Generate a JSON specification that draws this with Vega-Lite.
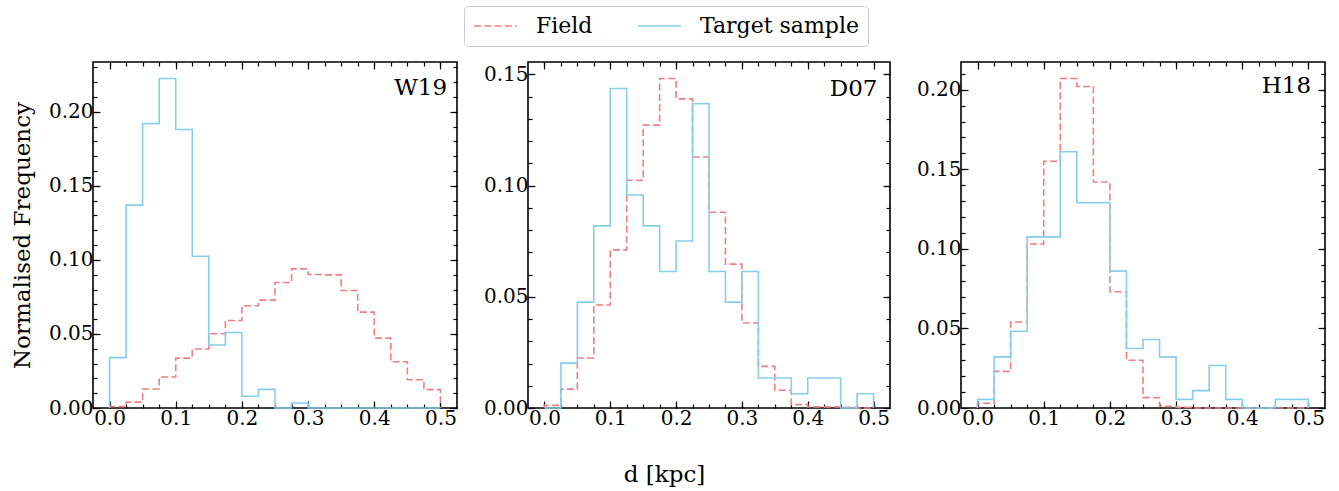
{
  "$schema": "https://vega.github.io/schema/vega-lite/v6.json",
  "padding": {"left": 10, "top": 5, "right": 10, "bottom": 5},
  "title": {"text": "d [kpc]", "orient": "bottom", "anchor": "middle", "fontSize": 23, "font": "DejaVu Serif", "fontWeight": "normal", "color": "black", "offset": 35, "dx": -4},
  "data": {"values": [
    {"p":"W19","s":"Field","i":0,"d":0,"f":0},
    {"p":"W19","s":"Field","i":1,"d":0,"f":0.001},
    {"p":"W19","s":"Field","i":2,"d":0.025,"f":0.004},
    {"p":"W19","s":"Field","i":3,"d":0.05,"f":0.0128},
    {"p":"W19","s":"Field","i":4,"d":0.075,"f":0.0209},
    {"p":"W19","s":"Field","i":5,"d":0.1,"f":0.0337},
    {"p":"W19","s":"Field","i":6,"d":0.125,"f":0.0398},
    {"p":"W19","s":"Field","i":7,"d":0.15,"f":0.0501},
    {"p":"W19","s":"Field","i":8,"d":0.175,"f":0.0591},
    {"p":"W19","s":"Field","i":9,"d":0.2,"f":0.069},
    {"p":"W19","s":"Field","i":10,"d":0.225,"f":0.0728},
    {"p":"W19","s":"Field","i":11,"d":0.25,"f":0.0847},
    {"p":"W19","s":"Field","i":12,"d":0.275,"f":0.0939},
    {"p":"W19","s":"Field","i":13,"d":0.3,"f":0.0901},
    {"p":"W19","s":"Field","i":14,"d":0.325,"f":0.0899},
    {"p":"W19","s":"Field","i":15,"d":0.35,"f":0.0793},
    {"p":"W19","s":"Field","i":16,"d":0.375,"f":0.0647},
    {"p":"W19","s":"Field","i":17,"d":0.4,"f":0.0472},
    {"p":"W19","s":"Field","i":18,"d":0.425,"f":0.0312},
    {"p":"W19","s":"Field","i":19,"d":0.45,"f":0.0191},
    {"p":"W19","s":"Field","i":20,"d":0.475,"f":0.0124},
    {"p":"W19","s":"Field","i":21,"d":0.5,"f":0.0124},
    {"p":"W19","s":"Field","i":22,"d":0.5,"f":0},
    {"p":"W19","s":"Target sample","i":0,"d":0,"f":0},
    {"p":"W19","s":"Target sample","i":1,"d":0,"f":0.034},
    {"p":"W19","s":"Target sample","i":2,"d":0.025,"f":0.137},
    {"p":"W19","s":"Target sample","i":3,"d":0.05,"f":0.192},
    {"p":"W19","s":"Target sample","i":4,"d":0.075,"f":0.2225},
    {"p":"W19","s":"Target sample","i":5,"d":0.1,"f":0.188},
    {"p":"W19","s":"Target sample","i":6,"d":0.125,"f":0.1025},
    {"p":"W19","s":"Target sample","i":7,"d":0.15,"f":0.0425},
    {"p":"W19","s":"Target sample","i":8,"d":0.175,"f":0.051},
    {"p":"W19","s":"Target sample","i":9,"d":0.2,"f":0.0079},
    {"p":"W19","s":"Target sample","i":10,"d":0.225,"f":0.0126},
    {"p":"W19","s":"Target sample","i":11,"d":0.25,"f":0},
    {"p":"W19","s":"Target sample","i":12,"d":0.275,"f":0.0034},
    {"p":"W19","s":"Target sample","i":13,"d":0.3,"f":0},
    {"p":"W19","s":"Target sample","i":14,"d":0.325,"f":0},
    {"p":"W19","s":"Target sample","i":15,"d":0.35,"f":0},
    {"p":"W19","s":"Target sample","i":16,"d":0.375,"f":0},
    {"p":"W19","s":"Target sample","i":17,"d":0.4,"f":0},
    {"p":"W19","s":"Target sample","i":18,"d":0.425,"f":0},
    {"p":"W19","s":"Target sample","i":19,"d":0.45,"f":0},
    {"p":"W19","s":"Target sample","i":20,"d":0.475,"f":0},
    {"p":"W19","s":"Target sample","i":21,"d":0.5,"f":0},
    {"p":"W19","s":"Target sample","i":22,"d":0.5,"f":0},
    {"p":"D07","s":"Field","i":0,"d":0,"f":0},
    {"p":"D07","s":"Field","i":1,"d":0,"f":0.0012},
    {"p":"D07","s":"Field","i":2,"d":0.025,"f":0.0085},
    {"p":"D07","s":"Field","i":3,"d":0.05,"f":0.0225},
    {"p":"D07","s":"Field","i":4,"d":0.075,"f":0.0463},
    {"p":"D07","s":"Field","i":5,"d":0.1,"f":0.0711},
    {"p":"D07","s":"Field","i":6,"d":0.125,"f":0.1024},
    {"p":"D07","s":"Field","i":7,"d":0.15,"f":0.1272},
    {"p":"D07","s":"Field","i":8,"d":0.175,"f":0.1482},
    {"p":"D07","s":"Field","i":9,"d":0.2,"f":0.139},
    {"p":"D07","s":"Field","i":10,"d":0.225,"f":0.1129},
    {"p":"D07","s":"Field","i":11,"d":0.25,"f":0.088},
    {"p":"D07","s":"Field","i":12,"d":0.275,"f":0.0647},
    {"p":"D07","s":"Field","i":13,"d":0.3,"f":0.0382},
    {"p":"D07","s":"Field","i":14,"d":0.325,"f":0.0187},
    {"p":"D07","s":"Field","i":15,"d":0.35,"f":0.008},
    {"p":"D07","s":"Field","i":16,"d":0.375,"f":0.0015},
    {"p":"D07","s":"Field","i":17,"d":0.4,"f":0.0005},
    {"p":"D07","s":"Field","i":18,"d":0.425,"f":0.0005},
    {"p":"D07","s":"Field","i":19,"d":0.45,"f":0.0003},
    {"p":"D07","s":"Field","i":20,"d":0.475,"f":0},
    {"p":"D07","s":"Field","i":21,"d":0.5,"f":0},
    {"p":"D07","s":"Field","i":22,"d":0.5,"f":0},
    {"p":"D07","s":"Target sample","i":0,"d":0,"f":0},
    {"p":"D07","s":"Target sample","i":1,"d":0,"f":0},
    {"p":"D07","s":"Target sample","i":2,"d":0.025,"f":0.0202},
    {"p":"D07","s":"Target sample","i":3,"d":0.05,"f":0.0476},
    {"p":"D07","s":"Target sample","i":4,"d":0.075,"f":0.0819},
    {"p":"D07","s":"Target sample","i":5,"d":0.1,"f":0.1437},
    {"p":"D07","s":"Target sample","i":6,"d":0.125,"f":0.0958},
    {"p":"D07","s":"Target sample","i":7,"d":0.15,"f":0.0819},
    {"p":"D07","s":"Target sample","i":8,"d":0.175,"f":0.0614},
    {"p":"D07","s":"Target sample","i":9,"d":0.2,"f":0.0751},
    {"p":"D07","s":"Target sample","i":10,"d":0.225,"f":0.1368},
    {"p":"D07","s":"Target sample","i":11,"d":0.25,"f":0.0614},
    {"p":"D07","s":"Target sample","i":12,"d":0.275,"f":0.0476},
    {"p":"D07","s":"Target sample","i":13,"d":0.3,"f":0.0614},
    {"p":"D07","s":"Target sample","i":14,"d":0.325,"f":0.0135},
    {"p":"D07","s":"Target sample","i":15,"d":0.35,"f":0.0135},
    {"p":"D07","s":"Target sample","i":16,"d":0.375,"f":0.0064},
    {"p":"D07","s":"Target sample","i":17,"d":0.4,"f":0.0135},
    {"p":"D07","s":"Target sample","i":18,"d":0.425,"f":0.0135},
    {"p":"D07","s":"Target sample","i":19,"d":0.45,"f":0},
    {"p":"D07","s":"Target sample","i":20,"d":0.475,"f":0.0064},
    {"p":"D07","s":"Target sample","i":21,"d":0.5,"f":0.0064},
    {"p":"D07","s":"Target sample","i":22,"d":0.5,"f":0},
    {"p":"H18","s":"Field","i":0,"d":0,"f":0},
    {"p":"H18","s":"Field","i":1,"d":0,"f":0.003},
    {"p":"H18","s":"Field","i":2,"d":0.025,"f":0.023},
    {"p":"H18","s":"Field","i":3,"d":0.05,"f":0.054},
    {"p":"H18","s":"Field","i":4,"d":0.075,"f":0.103},
    {"p":"H18","s":"Field","i":5,"d":0.1,"f":0.155},
    {"p":"H18","s":"Field","i":6,"d":0.125,"f":0.207},
    {"p":"H18","s":"Field","i":7,"d":0.15,"f":0.202},
    {"p":"H18","s":"Field","i":8,"d":0.175,"f":0.142},
    {"p":"H18","s":"Field","i":9,"d":0.2,"f":0.073},
    {"p":"H18","s":"Field","i":10,"d":0.225,"f":0.03},
    {"p":"H18","s":"Field","i":11,"d":0.25,"f":0.0065},
    {"p":"H18","s":"Field","i":12,"d":0.275,"f":0.001},
    {"p":"H18","s":"Field","i":13,"d":0.3,"f":0.0004},
    {"p":"H18","s":"Field","i":14,"d":0.325,"f":0},
    {"p":"H18","s":"Field","i":15,"d":0.35,"f":0},
    {"p":"H18","s":"Field","i":16,"d":0.375,"f":0},
    {"p":"H18","s":"Field","i":17,"d":0.4,"f":0},
    {"p":"H18","s":"Field","i":18,"d":0.425,"f":0},
    {"p":"H18","s":"Field","i":19,"d":0.45,"f":0},
    {"p":"H18","s":"Field","i":20,"d":0.475,"f":0},
    {"p":"H18","s":"Field","i":21,"d":0.5,"f":0},
    {"p":"H18","s":"Field","i":22,"d":0.5,"f":0},
    {"p":"H18","s":"Target sample","i":0,"d":0,"f":0},
    {"p":"H18","s":"Target sample","i":1,"d":0,"f":0.0054},
    {"p":"H18","s":"Target sample","i":2,"d":0.025,"f":0.0321},
    {"p":"H18","s":"Target sample","i":3,"d":0.05,"f":0.0482},
    {"p":"H18","s":"Target sample","i":4,"d":0.075,"f":0.1075},
    {"p":"H18","s":"Target sample","i":5,"d":0.1,"f":0.1075},
    {"p":"H18","s":"Target sample","i":6,"d":0.125,"f":0.161},
    {"p":"H18","s":"Target sample","i":7,"d":0.15,"f":0.129},
    {"p":"H18","s":"Target sample","i":8,"d":0.175,"f":0.129},
    {"p":"H18","s":"Target sample","i":9,"d":0.2,"f":0.086},
    {"p":"H18","s":"Target sample","i":10,"d":0.225,"f":0.0374},
    {"p":"H18","s":"Target sample","i":11,"d":0.25,"f":0.043},
    {"p":"H18","s":"Target sample","i":12,"d":0.275,"f":0.0321},
    {"p":"H18","s":"Target sample","i":13,"d":0.3,"f":0.0054},
    {"p":"H18","s":"Target sample","i":14,"d":0.325,"f":0.0109},
    {"p":"H18","s":"Target sample","i":15,"d":0.35,"f":0.0267},
    {"p":"H18","s":"Target sample","i":16,"d":0.375,"f":0.0054},
    {"p":"H18","s":"Target sample","i":17,"d":0.4,"f":0},
    {"p":"H18","s":"Target sample","i":18,"d":0.425,"f":0},
    {"p":"H18","s":"Target sample","i":19,"d":0.45,"f":0.0054},
    {"p":"H18","s":"Target sample","i":20,"d":0.475,"f":0.0054},
    {"p":"H18","s":"Target sample","i":21,"d":0.5,"f":0.0054},
    {"p":"H18","s":"Target sample","i":22,"d":0.5,"f":0}
  ]},
  "spacing": 23,
  "hconcat": [
    {
      "width": 364, "height": 346,
      "transform": [{"filter": "datum.p == 'W19'"}],
      "layer": [
        {
          "mark": {"type": "line", "interpolate": "step-after", "strokeWidth": 1.6},
          "encoding": {
            "x": {"field": "d", "type": "quantitative", "scale": {"domain": [-0.025, 0.525], "nice": false, "zero": false},
                  "axis": {"orient": "bottom", "values": [0, 0.1, 0.2, 0.3, 0.4, 0.5], "format": ".1f", "tickSize": -7, "labelPadding": 7, "title": null}},
            "y": {"field": "f", "type": "quantitative", "scale": {"domain": [0, 0.2336], "nice": false},
                  "axis": {"orient": "left", "values": [0, 0.05, 0.1, 0.15, 0.2], "format": ".2f", "tickSize": -7, "labelPadding": 7, "title": "Normalised Frequency", "titlePadding": 14}},
            "color": {"field": "s", "type": "nominal", "scale": {"domain": ["Field", "Target sample"], "range": ["#F08080", "#87CEEB"]}, "legend": {"title": null}},
            "strokeDash": {"field": "s", "type": "nominal", "scale": {"domain": ["Field", "Target sample"], "range": [[7, 3.3], [1, 0]]}, "legend": {"title": null}},
            "order": {"field": "i", "type": "quantitative"}
          }
        },
        {
          "mark": {"type": "line", "strokeOpacity": 0},
          "encoding": {
            "x": {"field": "d", "type": "quantitative", "axis": {"orient": "bottom", "values": [0,0.025,0.05,0.075,0.1,0.125,0.15,0.175,0.2,0.225,0.25,0.275,0.3,0.325,0.35,0.375,0.4,0.425,0.45,0.475,0.5], "labels": false, "tickSize": -4, "title": null}},
            "y": {"field": "f", "type": "quantitative", "axis": {"orient": "left", "values": [0,0.01,0.02,0.03,0.04,0.05,0.06,0.07,0.08,0.09,0.1,0.11,0.12,0.13,0.14,0.15,0.16,0.17,0.18,0.19,0.2,0.21,0.22,0.23], "labels": false, "tickSize": -4, "title": null}},
            "detail": {"field": "s"}
          }
        },
        {
          "mark": {"type": "line", "strokeOpacity": 0},
          "encoding": {
            "x": {"field": "d", "type": "quantitative", "axis": {"orient": "top", "values": [0, 0.1, 0.2, 0.3, 0.4, 0.5], "labels": false, "tickSize": -7, "title": null}},
            "y": {"field": "f", "type": "quantitative", "axis": {"orient": "right", "values": [0, 0.05, 0.1, 0.15, 0.2], "labels": false, "tickSize": -7, "title": null}},
            "detail": {"field": "s"}
          }
        },
        {
          "mark": {"type": "line", "strokeOpacity": 0},
          "encoding": {
            "x": {"field": "d", "type": "quantitative", "axis": {"orient": "top", "values": [0,0.025,0.05,0.075,0.1,0.125,0.15,0.175,0.2,0.225,0.25,0.275,0.3,0.325,0.35,0.375,0.4,0.425,0.45,0.475,0.5], "labels": false, "tickSize": -4, "title": null}},
            "y": {"field": "f", "type": "quantitative", "axis": {"orient": "right", "values": [0,0.01,0.02,0.03,0.04,0.05,0.06,0.07,0.08,0.09,0.1,0.11,0.12,0.13,0.14,0.15,0.16,0.17,0.18,0.19,0.2,0.21,0.22,0.23], "labels": false, "tickSize": -4, "title": null}},
            "detail": {"field": "s"}
          }
        },
        {
          "data": {"values": [{"p": "W19", "label": "W19"}]},
          "mark": {"type": "text", "align": "right", "baseline": "middle", "fontSize": 23, "font": "DejaVu Serif", "color": "black"},
          "encoding": {
            "x": {"datum": 0.51, "type": "quantitative", "axis": null},
            "y": {"datum": 0.216, "type": "quantitative", "axis": null},
            "text": {"field": "label"}
          }
        }
      ],
      "resolve": {"axis": {"x": "independent", "y": "independent"}}
    },
    {
      "width": 362, "height": 346,
      "transform": [{"filter": "datum.p == 'D07'"}],
      "layer": [
        {
          "mark": {"type": "line", "interpolate": "step-after", "strokeWidth": 1.6},
          "encoding": {
            "x": {"field": "d", "type": "quantitative", "scale": {"domain": [-0.025, 0.525], "nice": false, "zero": false},
                  "axis": {"orient": "bottom", "values": [0, 0.1, 0.2, 0.3, 0.4, 0.5], "format": ".1f", "tickSize": -7, "labelPadding": 7, "title": null}},
            "y": {"field": "f", "type": "quantitative", "scale": {"domain": [0, 0.1556], "nice": false},
                  "axis": {"orient": "left", "values": [0, 0.05, 0.1, 0.15], "format": ".2f", "tickSize": -7, "labelPadding": 7, "title": null}},
            "color": {"field": "s", "type": "nominal", "scale": {"domain": ["Field", "Target sample"], "range": ["#F08080", "#87CEEB"]}, "legend": {"title": null}},
            "strokeDash": {"field": "s", "type": "nominal", "scale": {"domain": ["Field", "Target sample"], "range": [[7, 3.3], [1, 0]]}, "legend": {"title": null}},
            "order": {"field": "i", "type": "quantitative"}
          }
        },
        {
          "mark": {"type": "line", "strokeOpacity": 0},
          "encoding": {
            "x": {"field": "d", "type": "quantitative", "axis": {"orient": "bottom", "values": [0,0.025,0.05,0.075,0.1,0.125,0.15,0.175,0.2,0.225,0.25,0.275,0.3,0.325,0.35,0.375,0.4,0.425,0.45,0.475,0.5], "labels": false, "tickSize": -4, "title": null}},
            "y": {"field": "f", "type": "quantitative", "axis": {"orient": "left", "values": [0,0.01,0.02,0.03,0.04,0.05,0.06,0.07,0.08,0.09,0.1,0.11,0.12,0.13,0.14,0.15], "labels": false, "tickSize": -4, "title": null}},
            "detail": {"field": "s"}
          }
        },
        {
          "mark": {"type": "line", "strokeOpacity": 0},
          "encoding": {
            "x": {"field": "d", "type": "quantitative", "axis": {"orient": "top", "values": [0, 0.1, 0.2, 0.3, 0.4, 0.5], "labels": false, "tickSize": -7, "title": null}},
            "y": {"field": "f", "type": "quantitative", "axis": {"orient": "right", "values": [0, 0.05, 0.1, 0.15], "labels": false, "tickSize": -7, "title": null}},
            "detail": {"field": "s"}
          }
        },
        {
          "mark": {"type": "line", "strokeOpacity": 0},
          "encoding": {
            "x": {"field": "d", "type": "quantitative", "axis": {"orient": "top", "values": [0,0.025,0.05,0.075,0.1,0.125,0.15,0.175,0.2,0.225,0.25,0.275,0.3,0.325,0.35,0.375,0.4,0.425,0.45,0.475,0.5], "labels": false, "tickSize": -4, "title": null}},
            "y": {"field": "f", "type": "quantitative", "axis": {"orient": "right", "values": [0,0.01,0.02,0.03,0.04,0.05,0.06,0.07,0.08,0.09,0.1,0.11,0.12,0.13,0.14,0.15], "labels": false, "tickSize": -4, "title": null}},
            "detail": {"field": "s"}
          }
        },
        {
          "data": {"values": [{"p": "D07", "label": "D07"}]},
          "mark": {"type": "text", "align": "right", "baseline": "middle", "fontSize": 23, "font": "DejaVu Serif", "color": "black"},
          "encoding": {
            "x": {"datum": 0.506, "type": "quantitative", "axis": null},
            "y": {"datum": 0.1435, "type": "quantitative", "axis": null},
            "text": {"field": "label"}
          }
        }
      ],
      "resolve": {"axis": {"x": "independent", "y": "independent"}}
    },
    {
      "width": 364, "height": 346,
      "transform": [{"filter": "datum.p == 'H18'"}],
      "layer": [
        {
          "mark": {"type": "line", "interpolate": "step-after", "strokeWidth": 1.6},
          "encoding": {
            "x": {"field": "d", "type": "quantitative", "scale": {"domain": [-0.025, 0.525], "nice": false, "zero": false},
                  "axis": {"orient": "bottom", "values": [0, 0.1, 0.2, 0.3, 0.4, 0.5], "format": ".1f", "tickSize": -7, "labelPadding": 7, "title": null}},
            "y": {"field": "f", "type": "quantitative", "scale": {"domain": [0, 0.2174], "nice": false},
                  "axis": {"orient": "left", "values": [0, 0.05, 0.1, 0.15, 0.2], "format": ".2f", "tickSize": -7, "labelPadding": 7, "title": null}},
            "color": {"field": "s", "type": "nominal", "scale": {"domain": ["Field", "Target sample"], "range": ["#F08080", "#87CEEB"]}, "legend": {"title": null}},
            "strokeDash": {"field": "s", "type": "nominal", "scale": {"domain": ["Field", "Target sample"], "range": [[7, 3.3], [1, 0]]}, "legend": {"title": null}},
            "order": {"field": "i", "type": "quantitative"}
          }
        },
        {
          "mark": {"type": "line", "strokeOpacity": 0},
          "encoding": {
            "x": {"field": "d", "type": "quantitative", "axis": {"orient": "bottom", "values": [0,0.025,0.05,0.075,0.1,0.125,0.15,0.175,0.2,0.225,0.25,0.275,0.3,0.325,0.35,0.375,0.4,0.425,0.45,0.475,0.5], "labels": false, "tickSize": -4, "title": null}},
            "y": {"field": "f", "type": "quantitative", "axis": {"orient": "left", "values": [0,0.01,0.02,0.03,0.04,0.05,0.06,0.07,0.08,0.09,0.1,0.11,0.12,0.13,0.14,0.15,0.16,0.17,0.18,0.19,0.2,0.21], "labels": false, "tickSize": -4, "title": null}},
            "detail": {"field": "s"}
          }
        },
        {
          "mark": {"type": "line", "strokeOpacity": 0},
          "encoding": {
            "x": {"field": "d", "type": "quantitative", "axis": {"orient": "top", "values": [0, 0.1, 0.2, 0.3, 0.4, 0.5], "labels": false, "tickSize": -7, "title": null}},
            "y": {"field": "f", "type": "quantitative", "axis": {"orient": "right", "values": [0, 0.05, 0.1, 0.15, 0.2], "labels": false, "tickSize": -7, "title": null}},
            "detail": {"field": "s"}
          }
        },
        {
          "mark": {"type": "line", "strokeOpacity": 0},
          "encoding": {
            "x": {"field": "d", "type": "quantitative", "axis": {"orient": "top", "values": [0,0.025,0.05,0.075,0.1,0.125,0.15,0.175,0.2,0.225,0.25,0.275,0.3,0.325,0.35,0.375,0.4,0.425,0.45,0.475,0.5], "labels": false, "tickSize": -4, "title": null}},
            "y": {"field": "f", "type": "quantitative", "axis": {"orient": "right", "values": [0,0.01,0.02,0.03,0.04,0.05,0.06,0.07,0.08,0.09,0.1,0.11,0.12,0.13,0.14,0.15,0.16,0.17,0.18,0.19,0.2,0.21], "labels": false, "tickSize": -4, "title": null}},
            "detail": {"field": "s"}
          }
        },
        {
          "data": {"values": [{"p": "H18", "label": "H18"}]},
          "mark": {"type": "text", "align": "right", "baseline": "middle", "fontSize": 23, "font": "DejaVu Serif", "color": "black"},
          "encoding": {
            "x": {"datum": 0.504, "type": "quantitative", "axis": null},
            "y": {"datum": 0.2023, "type": "quantitative", "axis": null},
            "text": {"field": "label"}
          }
        }
      ],
      "resolve": {"axis": {"x": "independent", "y": "independent"}}
    }
  ],
  "config": {
    "font": "DejaVu Serif",
    "view": {"stroke": "black", "strokeWidth": 1.6},
    "axis": {
      "domain": false, "grid": false, "tickColor": "black", "tickWidth": 1.2,
      "labelFont": "DejaVu Serif", "labelFontSize": 20, "labelColor": "black",
      "titleFont": "DejaVu Serif", "titleFontSize": 23, "titleFontWeight": "normal", "titleColor": "black"
    },
    "legend": {
      "orient": "none", "legendX": 371, "legendY": -56, "direction": "horizontal",
      "symbolType": "stroke", "symbolSize": 1850, "symbolStrokeWidth": 1.6, "clipHeight": 22,
      "labelFont": "DejaVu Serif", "labelFontSize": 22, "labelColor": "black", "labelOffset": 18,
      "columnPadding": 44, "padding": 9, "strokeColor": "#cccccc", "cornerRadius": 4, "fillColor": "white"
    }
  }
}
